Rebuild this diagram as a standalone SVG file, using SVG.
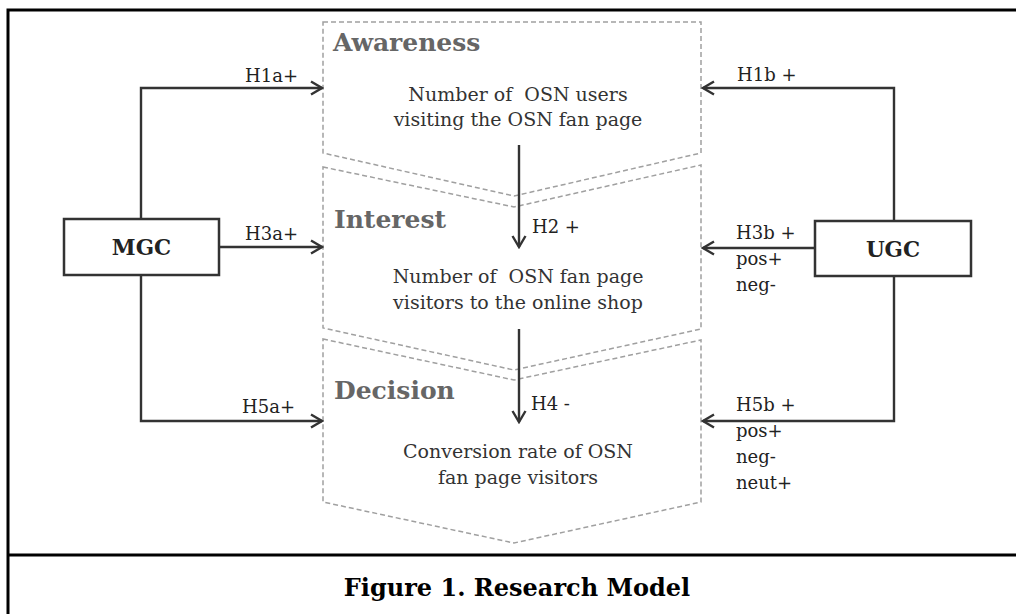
<svg xmlns="http://www.w3.org/2000/svg" width="1016" height="614" viewBox="0 0 1016 614">
<defs>
<style>
.stage{fill:none;stroke:#a0a0a0;stroke-width:1.5;stroke-dasharray:5,3}
.title{font-family:"DejaVu Serif","Liberation Serif",serif;font-weight:bold;font-size:25px;fill:#666}
.body{font-family:"DejaVu Serif","Liberation Serif",serif;font-size:19px;fill:#333}
.lbl{font-family:"DejaVu Serif","Liberation Serif",serif;font-size:18px;fill:#222}
.box{fill:#fff;stroke:#333;stroke-width:2.5}
.boxt{font-family:"DejaVu Serif","Liberation Serif",serif;font-weight:bold;font-size:21.5px;fill:#222}
.conn{fill:none;stroke:#333;stroke-width:2.4}
.frame{fill:none;stroke:#000;stroke-width:3}
.cap{font-family:"DejaVu Serif","Liberation Serif",serif;font-weight:bold;font-size:24px;fill:#000}
</style>
<marker id="arr" markerUnits="userSpaceOnUse" markerWidth="14" markerHeight="16" refX="12" refY="8" orient="auto">
<path d="M1,1.5 L12,8 L1,14.5" fill="none" stroke="#333" stroke-width="2.4"/>
</marker>
</defs>
<rect width="1016" height="614" fill="#fff"/>
<g id="frame">
<path class="frame" d="M8,616 L8,10 L1016,10"/>
<path class="frame" d="M8,555 L1016,555"/>
</g>
<g id="awareness">
<path class="stage" d="M323,22 L701,22 L701,153 L514,196 L323,153 Z"/>
<text class="title" x="333" y="51">Awareness</text>
<text class="body" x="518" y="101" text-anchor="middle">Number of&#160; OSN users</text>
<text class="body" x="518" y="126" text-anchor="middle">visiting the OSN fan page</text>
</g>
<g id="interest">
<path class="stage" d="M323,167 L514,207 L701,165 L701,329 L514,370 L323,328 Z"/>
<text class="title" x="334" y="228">Interest</text>
<text class="body" x="518" y="283" text-anchor="middle">Number of&#160; OSN fan page</text>
<text class="body" x="518" y="309" text-anchor="middle">visitors to the online shop</text>
</g>
<g id="decision">
<path class="stage" d="M323,339 L514,380 L701,340 L701,502 L514,543 L323,502 Z"/>
<text class="title" x="334" y="399">Decision</text>
<text class="body" x="518" y="458" text-anchor="middle">Conversion rate of OSN</text>
<text class="body" x="518" y="484" text-anchor="middle">fan page visitors</text>
</g>
<g id="mgc">
<rect class="box" x="64" y="219" width="155" height="56"/>
<text class="boxt" x="141.5" y="255" text-anchor="middle">MGC</text>
</g>
<g id="ugc">
<rect class="box" x="815" y="221" width="156" height="55"/>
<text class="boxt" x="893" y="257" text-anchor="middle">UGC</text>
</g>
<g id="connectors">
<path class="conn" d="M141,219 L141,88 L322,88" marker-end="url(#arr)"/>
<path class="conn" d="M219,247 L322,247" marker-end="url(#arr)"/>
<path class="conn" d="M141,275 L141,421 L322,421" marker-end="url(#arr)"/>
<path class="conn" d="M894,221 L894,88 L703,88" marker-end="url(#arr)"/>
<path class="conn" d="M815,248 L703,248" marker-end="url(#arr)"/>
<path class="conn" d="M894,276 L894,421 L703,421" marker-end="url(#arr)"/>
<path class="conn" d="M519,145 L519,247" marker-end="url(#arr)"/>
<path class="conn" d="M519,329 L519,422" marker-end="url(#arr)"/>
<text class="lbl" x="245" y="82">H1a+</text>
<text class="lbl" x="245" y="240">H3a+</text>
<text class="lbl" x="242" y="413">H5a+</text>
<text class="lbl" x="737" y="81">H1b +</text>
<text class="lbl" x="736" y="239">H3b +</text>
<text class="lbl" x="736" y="265">pos+</text>
<text class="lbl" x="736" y="291">neg-</text>
<text class="lbl" x="736" y="411">H5b +</text>
<text class="lbl" x="736" y="437">pos+</text>
<text class="lbl" x="736" y="463">neg-</text>
<text class="lbl" x="736" y="489">neut+</text>
<text class="lbl" x="532" y="233">H2 +</text>
<text class="lbl" x="531" y="410">H4 -</text>
</g>
<g id="caption">
<text class="cap" x="517" y="596" text-anchor="middle">Figure 1. Research Model</text>
</g>
</svg>
